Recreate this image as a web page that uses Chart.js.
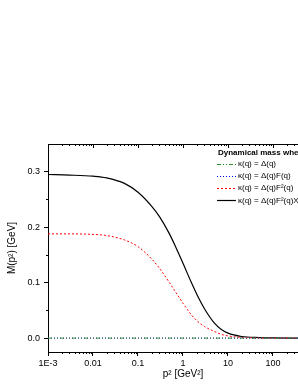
<!DOCTYPE html>
<html>
<head>
<meta charset="utf-8">
<script src="https://cdn.jsdelivr.net/npm/chart.js@4.4.0/dist/chart.umd.min.js"></script>
<style>
  html, body { margin: 0; padding: 0; background: #fff; overflow: hidden; }
  #wrap { width: 330px; height: 385px; }
</style>
</head>
<body>
<div id="wrap"><canvas id="massChart" width="330" height="385"></canvas></div>
<script>
// p^2 in GeV^2
const pSquared = [0.001, 0.003, 0.01, 0.02, 0.05, 0.1, 0.2, 0.3, 0.5, 0.7, 1, 1.5, 2, 3, 5, 7, 10, 20, 50, 100, 300, 1000];

// M(p^2) in GeV for each choice of kappa(q)
const massDelta    = [0, 0, 0, 0, 0, 0, 0, 0, 0, 0, 0, 0, 0, 0, 0, 0, 0, 0, 0, 0, 0, 0];
const massDeltaF   = [0, 0, 0, 0, 0, 0, 0, 0, 0, 0, 0, 0, 0, 0, 0, 0, 0, 0, 0, 0, 0, 0];
const massDeltaF2  = [0.188, 0.188, 0.187, 0.185, 0.177, 0.165, 0.143, 0.126, 0.100, 0.082, 0.063, 0.043, 0.032, 0.021, 0.012, 0.007, 0.004, 0.0012, 0.0003, 0.0001, 0, 0];
const massDeltaF2X = [0.295, 0.294, 0.292, 0.289, 0.279, 0.263, 0.238, 0.219, 0.188, 0.163, 0.135, 0.102, 0.080, 0.053, 0.027, 0.016, 0.009, 0.003, 0.001, 0.0004, 0.0001, 0];

const legendTitle = 'Dynamical mass when';
const legendLabels = ['κ(q) = Δ(q)', 'κ(q) = Δ(q)F(q)', 'κ(q) = Δ(q)F²(q)', 'κ(q) = Δ(q)F²(q)X(q)'];

const xTicks = [0.001, 0.01, 0.1, 1, 10, 100, 1000];
const xTickLabels = ['1E-3', '0.01', '0.1', '1', '10', '100', '1000'];
const yTicks = [0, 0.1, 0.2, 0.3];
const yMinorTicks = [0.05, 0.15, 0.25];

const FONT = 'Liberation Sans, Arial, sans-serif';

function toPoints(ys) {
    return pSquared.map((x, i) => ({ x: x, y: ys[i] }));
}

// frame, minor ticks and the legend box
const extras = {
    id: 'extras',
    afterDraw(chart) {
        const c = chart.ctx;
        const a = chart.chartArea;
        const xs = chart.scales.x;
        const ys = chart.scales.y;
        c.save();
        c.strokeStyle = '#000';
        c.lineWidth = 1;
        // top + right border
        c.beginPath();
        c.moveTo(a.left, a.top + 0.5);
        c.lineTo(a.right + 0.5, a.top + 0.5);
        c.lineTo(a.right + 0.5, a.bottom);
        c.stroke();

        // x ticks: bottom outward, top inward
        c.beginPath();
        for (let e = -3; e < 3; e++) {
            for (let m = 1; m < 10; m++) {
                const v = m * Math.pow(10, e);
                const px = Math.round(xs.getPixelForValue(v)) + 0.5;
                const len = m === 1 ? 4 : 2;
                if (m !== 1) {
                    c.moveTo(px, a.bottom);
                    c.lineTo(px, a.bottom + len);
                }
                c.moveTo(px, a.top);
                c.lineTo(px, a.top + len);
            }
        }
        // y minor ticks outward
        yMinorTicks.forEach(v => {
            const py = Math.round(ys.getPixelForValue(v)) + 0.5;
            c.moveTo(a.left, py);
            c.lineTo(a.left - 2, py);
        });
        c.stroke();

        // legend
        const lx = 217, ly = 153;
        c.fillStyle = '#000';
        c.font = 'bold 8px ' + FONT;
        c.textBaseline = 'middle';
        c.fillText(legendTitle, lx + 1, ly);
        c.font = '8px ' + FONT;
        chart.data.datasets.forEach((ds, i) => {
            const y = ly + 10.5 + i * 12.3;
            c.beginPath();
            c.strokeStyle = ds.borderColor;
            c.lineWidth = ds.borderWidth;
            c.setLineDash(ds.borderDash || []);
            c.moveTo(lx, Math.round(y) + 0.5);
            c.lineTo(lx + 19, Math.round(y) + 0.5);
            c.stroke();
            c.setLineDash([]);
            c.fillText(legendLabels[i], lx + 21, y);
        });
        c.restore();
    }
};

const ctx = document.getElementById('massChart').getContext('2d');

const myChart = new Chart(ctx, {
    type: 'line',
    data: {
        datasets: [{
            label: legendLabels[0],
            data: toPoints(massDelta),
            borderColor: '#2e8b2e',
            borderWidth: 1,
            borderDash: [4, 2, 1, 2, 1, 2],
        }, {
            label: legendLabels[1],
            data: toPoints(massDeltaF),
            borderColor: '#0000ff',
            borderWidth: 1,
            borderDash: [1, 2],
        }, {
            label: legendLabels[2],
            data: toPoints(massDeltaF2),
            borderColor: '#ff0000',
            borderWidth: 1,
            borderDash: [2, 2],
        }, {
            label: legendLabels[3],
            data: toPoints(massDeltaF2X),
            borderColor: '#000000',
            borderWidth: 1.2,
        }]
    },
    options: {
        animation: false,
        responsive: false,
        devicePixelRatio: 1,
        layout: { padding: { top: 144, right: 2, left: 0, bottom: 0 } },
        elements: {
            point: { radius: 0 },
            line: { cubicInterpolationMode: 'monotone', fill: false }
        },
        plugins: {
            legend: { display: false },
            tooltip: { enabled: false }
        },
        scales: {
            x: {
                type: 'logarithmic',
                min: 0.001,
                max: 1000,
                border: { display: true, color: '#000', width: 1 },
                grid: { drawOnChartArea: false, drawTicks: true, tickLength: 4, color: '#000' },
                afterBuildTicks: s => { s.ticks = xTicks.map(v => ({ value: v })); },
                afterFit: s => { s.height = 33; },
                ticks: {
                    autoSkip: false,
                    maxRotation: 0,
                    padding: 2,
                    color: '#000',
                    font: { family: FONT, size: 9 },
                    callback: (v) => xTickLabels[xTicks.indexOf(v)] ?? ''
                },
                title: {
                    display: true,
                    text: 'p² [GeV²]',
                    color: '#000',
                    font: { family: FONT, size: 10 },
                    padding: { top: 0, bottom: 5 }
                }
            },
            y: {
                min: -0.025,
                max: 0.35,
                border: { display: true, color: '#000', width: 1 },
                grid: { drawOnChartArea: false, drawTicks: true, tickLength: 4, color: '#000' },
                afterBuildTicks: s => { s.ticks = yTicks.map(v => ({ value: v })); },
                afterFit: s => { s.width = 48; },
                ticks: {
                    padding: 4,
                    color: '#000',
                    font: { family: FONT, size: 9 },
                    callback: v => v.toFixed(1)
                },
                title: {
                    display: true,
                    text: 'M(p²) [GeV]',
                    color: '#000',
                    font: { family: FONT, size: 10 },
                    padding: { top: 6, bottom: 0 }
                }
            }
        }
    },
    plugins: [extras]
});
</script>
</body>
</html>
